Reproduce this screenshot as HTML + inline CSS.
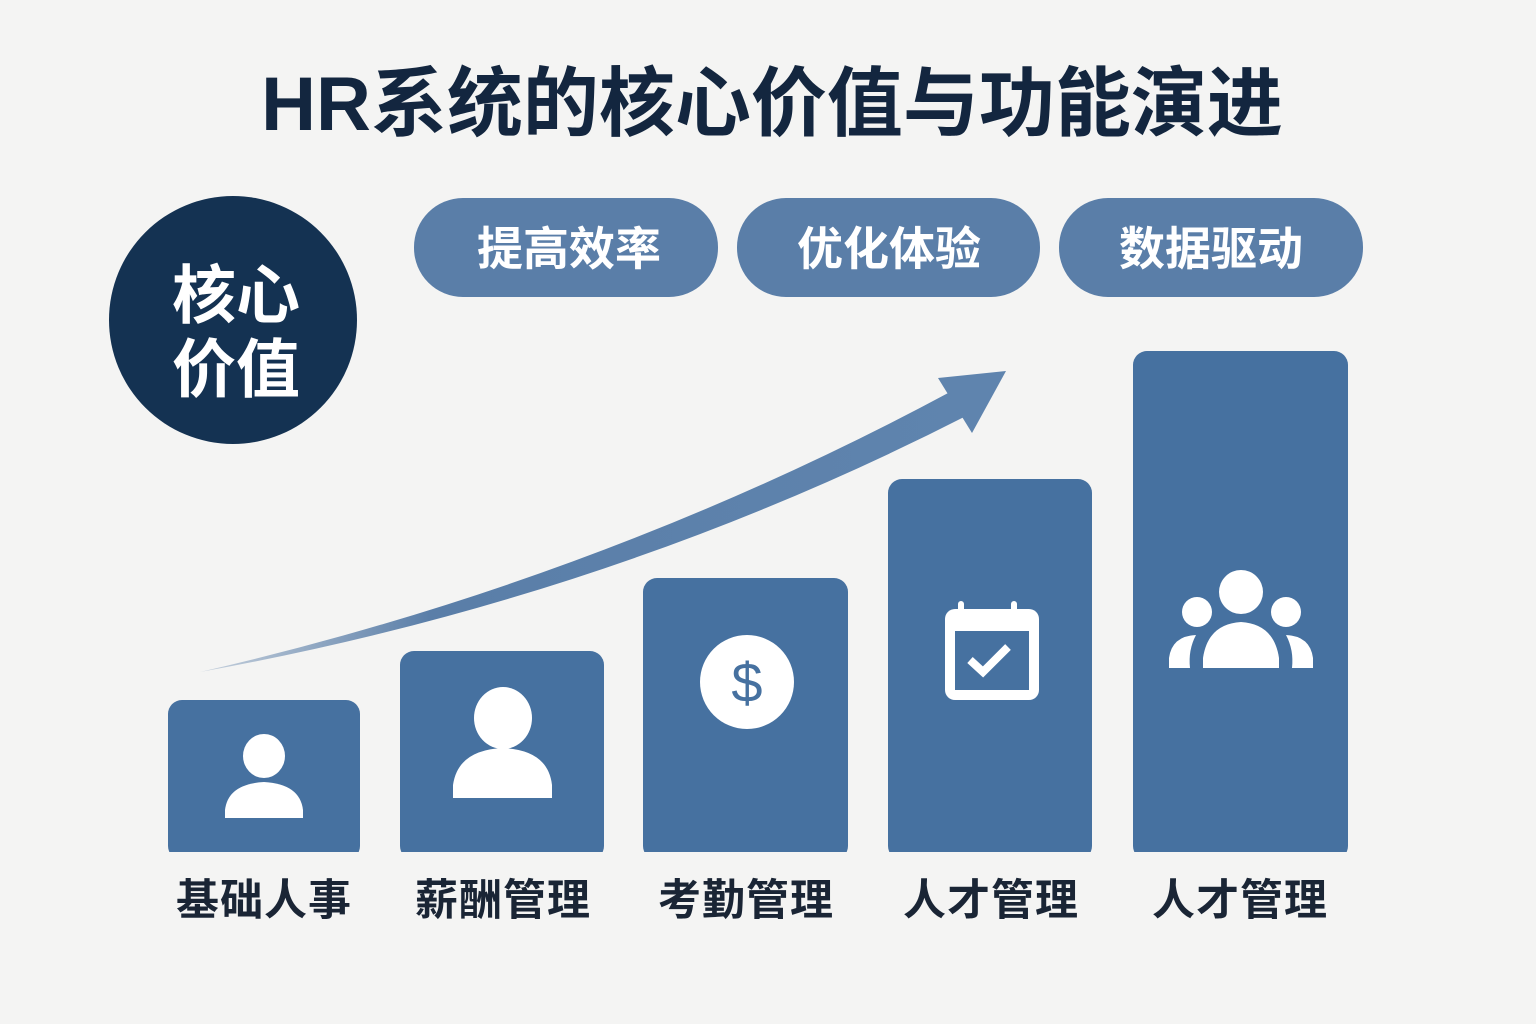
<!DOCTYPE html>
<html><head><meta charset="utf-8"><style>
body{margin:0;background:#f4f4f4;}
svg{display:block}
text{font-family:"Liberation Sans","Noto Sans CJK SC",sans-serif;font-weight:bold}
</style></head><body>
<svg width="1536" height="1024" viewBox="0 0 1536 1024">
<rect width="1536" height="1024" fill="#f4f4f3"/>
<text x="772" y="130" text-anchor="middle" font-size="76" letter-spacing="0" fill="#13263f">HR系统的核心价值与功能演进</text>
<circle cx="233" cy="320" r="124" fill="#143252"/>
<text x="236" y="318" text-anchor="middle" font-size="64" fill="#fff">核心</text>
<text x="236" y="392" text-anchor="middle" font-size="64" fill="#fff">价值</text>
<g fill="#5a7ea8">
<rect x="414" y="198" width="304" height="99" rx="49"/>
<rect x="737" y="198" width="303" height="99" rx="49"/>
<rect x="1059" y="198" width="304" height="99" rx="49"/>
</g>
<g font-size="46" fill="#fff" text-anchor="middle">
<text x="569" y="265">提高效率</text>
<text x="889" y="265">优化体验</text>
<text x="1211" y="265">数据驱动</text>
</g>
<defs><linearGradient id="g" x1="0" x2="1"><stop offset="0" stop-color="#5a7ea8" stop-opacity="0.3"/><stop offset="0.3" stop-color="#5a7ea8"/><stop offset="1" stop-color="#5f84ae"/></linearGradient></defs>
<path d="M200,672 Q600,580 950,392 L966,416 Q610,598 200,672 Z" fill="url(#g)"/>
<polygon points="1006,371 938,378 972,433" fill="#5f84ae"/>
<g fill="#4671a0">
<rect x="168" y="700" width="192" height="160" rx="14"/>
<rect x="400" y="651" width="204" height="209" rx="14"/>
<rect x="643" y="578" width="205" height="282" rx="14"/>
<rect x="888" y="479" width="204" height="381" rx="14"/>
<rect x="1133" y="351" width="215" height="509" rx="14"/>
</g>
<rect x="0" y="852" width="1536" height="20" fill="#f4f4f3"/>
<g fill="#fff">
<ellipse cx="264" cy="756" rx="21" ry="22"/>
<path d="M225,818 L225,810 Q228,784 264,782 Q300,784 303,810 L303,818 Z"/>
<ellipse cx="503" cy="718" rx="29" ry="31"/>
<path d="M453,798 L453,785 Q458,750 503,748 Q548,750 552,785 L552,798 Z"/>
<circle cx="747" cy="682" r="47"/>
<rect x="945" y="609" width="94" height="91" rx="10"/>
<rect x="958" y="601" width="6" height="14" rx="3"/><rect x="1011" y="601" width="6" height="14" rx="3"/>
<circle cx="1241" cy="592" r="22"/>
<circle cx="1197" cy="612" r="15"/><circle cx="1286" cy="612" r="15"/>
<path d="M1203,668 L1203,658 Q1208,624 1241,622 Q1274,624 1279,658 L1279,668 Z"/>
<path d="M1169,668 L1169,658 Q1172,636 1196,635 Q1188,650 1190,668 Z"/>
<path d="M1313,668 L1313,658 Q1310,636 1286,635 Q1294,650 1292,668 Z"/>
</g>
<text x="747" y="702" text-anchor="middle" font-size="56" fill="#4671a0" style="font-weight:normal">$</text>
<rect x="955" y="631" width="74" height="59" fill="#4671a0"/>
<polyline points="970,660 983,672 1008,647" fill="none" stroke="#fff" stroke-width="8"/>
<g font-size="43" fill="#1a2535" text-anchor="middle" letter-spacing="1">
<text x="264" y="915">基础人事</text>
<text x="503" y="915">薪酬管理</text>
<text x="746" y="915">考勤管理</text>
<text x="991" y="915">人才管理</text>
<text x="1240" y="915">人才管理</text>
</g>
</svg>
</body></html>
